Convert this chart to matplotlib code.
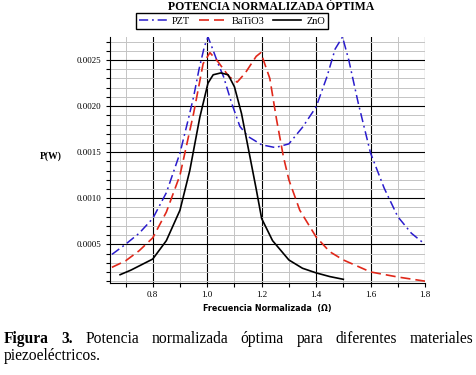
import numpy as np
import matplotlib
matplotlib.use('Agg')
import matplotlib.pyplot as plt
from matplotlib.ticker import MultipleLocator, FormatStrFormatter
from matplotlib.lines import Line2D

# data
pzt_x = [0.65, 0.70, 0.75, 0.80, 0.85, 0.90, 0.93, 0.95, 0.97, 0.99, 1.003, 1.02, 1.04, 1.06,
         1.09, 1.12, 1.15, 1.20, 1.25, 1.30, 1.35, 1.40, 1.44, 1.47, 1.497, 1.52, 1.555,
         1.60, 1.65, 1.70, 1.75, 1.80]
pzt_y = [0.00039, 0.00050, 0.00062, 0.00078, 0.00106, 0.00149, 0.00185, 0.00210, 0.00240,
         0.00265, 0.00275, 0.00262, 0.00246, 0.00232, 0.00203, 0.00178, 0.00167, 0.00158,
         0.00155, 0.00159, 0.00177, 0.00199, 0.00232, 0.00262, 0.00275, 0.00250, 0.00203,
         0.00149, 0.00111, 0.00080, 0.00062, 0.00050]

bat_x = [0.65, 0.70, 0.75, 0.80, 0.85, 0.90, 0.95, 0.985, 1.01, 1.04, 1.08, 1.11, 1.14,
         1.18, 1.197, 1.23, 1.255, 1.28, 1.30, 1.34, 1.40, 1.45, 1.50, 1.60, 1.70, 1.80]
bat_y = [0.00025, 0.00032, 0.00043, 0.00057, 0.00085, 0.00125, 0.00192, 0.00246, 0.00258,
         0.00248, 0.00232, 0.00226, 0.00236, 0.00254, 0.00258, 0.00230, 0.00185, 0.00145,
         0.00120, 0.00087, 0.00058, 0.00042, 0.00033, 0.00020, 0.000145, 0.00010]

zno_x = [0.68, 0.72, 0.76, 0.80, 0.85, 0.90, 0.936, 0.973, 1.003, 1.022, 1.05, 1.077, 1.10,
         1.126, 1.157, 1.18, 1.20, 1.24, 1.30, 1.35, 1.40, 1.45, 1.50]
zno_y = [0.00017, 0.00022, 0.00028, 0.00034, 0.00054, 0.00087, 0.00130, 0.00188, 0.00225,
         0.00234, 0.00236, 0.00234, 0.00221, 0.00192, 0.00145, 0.00110, 0.00078, 0.00054,
         0.00033, 0.00024, 0.00019, 0.00015, 0.00012]

names = ['PZT', 'BaTiO3', 'ZnO']
caption = 'Potencia normalizada óptima para diferentes materiales'

SERIF = 'Liberation Serif'
BLUE = '#2a1ccc'
RED = '#e0281a'

fig = plt.figure(figsize=(4.77, 3.75), dpi=100)
W, H = 477.0, 375.0
ax = fig.add_axes([110 / W, 1 - 283 / H, 315 / W, 246 / H])

ax.plot(pzt_x, pzt_y, color=BLUE, lw=1.1, linestyle=(0, (6, 2.5, 1.2, 2.5)))
ax.plot(bat_x, bat_y, color=RED, lw=1.2, linestyle=(0, (6, 3)))
ax.plot(zno_x, zno_y, color='black', lw=1.2)

ax.set_xlim(0.643, 1.8)
ax.set_ylim(0.00008, 0.00275)
ax.xaxis.set_major_locator(MultipleLocator(0.2))
ax.xaxis.set_minor_locator(MultipleLocator(0.1))
ax.yaxis.set_major_locator(MultipleLocator(0.0005))
ax.yaxis.set_minor_locator(MultipleLocator(0.0001))
ax.xaxis.set_major_formatter(FormatStrFormatter('%.1f'))
ax.yaxis.set_major_formatter(FormatStrFormatter('%.4f'))
ax.grid(which='minor', color='#c4c4c4', lw=0.7)
ax.grid(which='major', color='black', lw=0.8)
ax.set_axisbelow(True)
for s in ['top', 'right']:
    ax.spines[s].set_visible(False)
ax.tick_params(which='both', direction='out', length=3, width=0.8, labelsize=6.5, pad=3)
for lab in ax.get_xticklabels() + ax.get_yticklabels():
    lab.set_family(SERIF)

ax.set_xlabel('Frecuencia Normalizada  (Ω)', fontsize=5.8, fontweight='bold',
              family='DejaVu Sans', labelpad=3)
fig.text(40 / W, 1 - 156 / H, 'P(W)', family=SERIF, fontweight='bold', fontsize=7,
         ha='left', va='center')

fig.text(271 / W, 1 - 7 / H, 'POTENCIA NORMALIZADA ÓPTIMA', family=SERIF,
         fontweight='bold', fontsize=8.5, ha='center', va='center')

handles = [Line2D([], [], color=BLUE, lw=1.1, linestyle=(0, (6, 2.5, 1.2, 2.5))),
           Line2D([], [], color=RED, lw=1.2, linestyle=(0, (6, 3))),
           Line2D([], [], color='black', lw=1.2)]
fig.legend(handles, names, loc='center', bbox_to_anchor=(232 / W, 1 - 21 / H), ncol=3,
           prop={'family': SERIF, 'size': 7.5}, frameon=True, fancybox=False,
           edgecolor='black', framealpha=1, handlelength=2.7, handletextpad=0.5,
           columnspacing=0.8, borderpad=0.3, borderaxespad=0)

# caption, justified on the first line
fig.canvas.draw()
r = fig.canvas.get_renderer()
x0, x1 = 4.0, 473.0
y1 = 1 - 343 / H
words = [('Figura', 'bold'), ('3.', 'bold')] + [(w, 'normal') for w in caption.split()]
texts = []
for w, fw in words:
    t = fig.text(0, y1, w, family=SERIF, fontsize=11.2, fontweight=fw, ha='left',
                 va='baseline')
    texts.append(t)
widths = [t.get_window_extent(r).width for t in texts]
gap = (x1 - x0 - sum(widths)) / (len(texts) - 1)
x = x0
for t, wd in zip(texts, widths):
    t.set_x(x / W)
    x += wd + gap
fig.text(x0 / W, 1 - 360 / H, 'piezoeléctricos.', family=SERIF, fontsize=11.2,
         ha='left', va='baseline')

fig.savefig('out.png', dpi=100)
